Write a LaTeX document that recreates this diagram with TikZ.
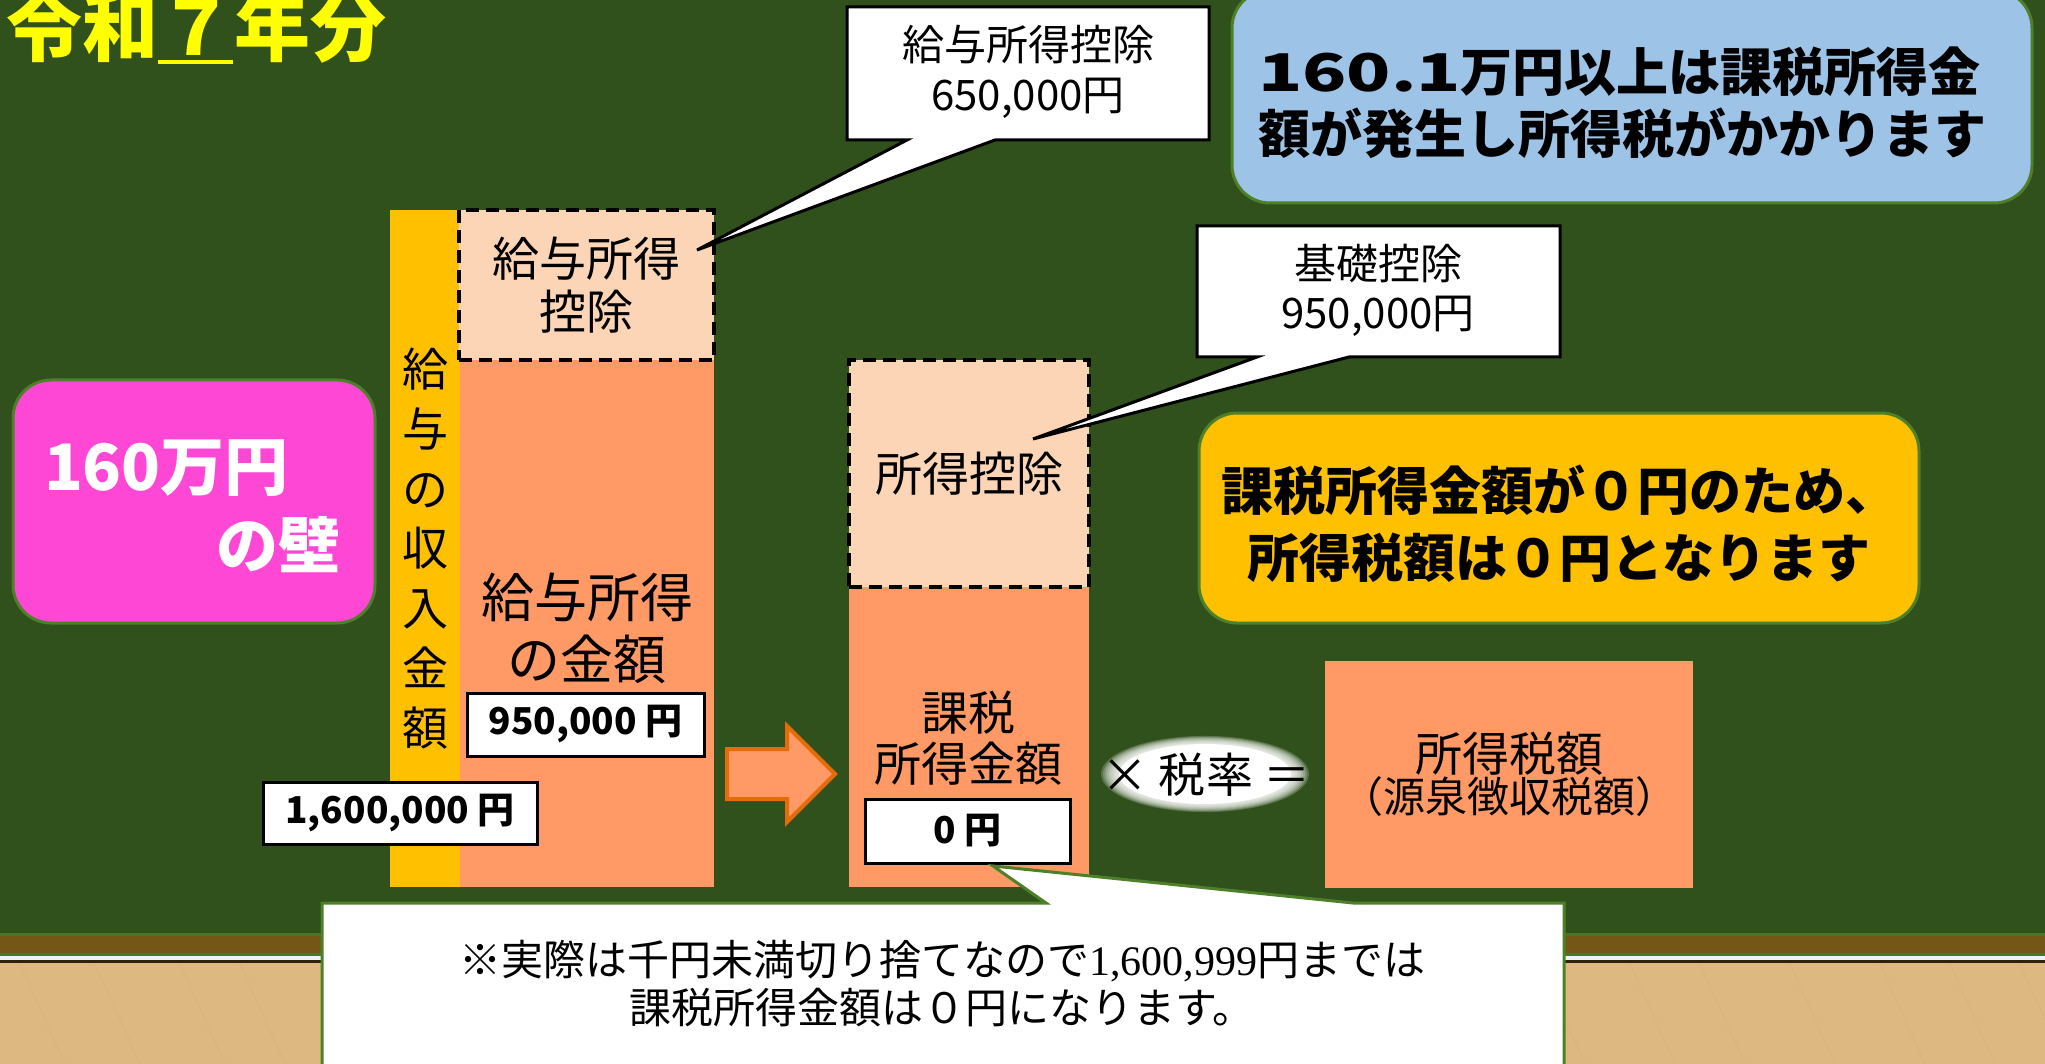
\documentclass[tikz,border=0pt]{standalone}
\usepackage{fontspec}
\usepackage{graphicx}
\newfontfamily\jp{Noto Sans CJK JP}
\newfontfamily\numserif{Liberation Serif}
\newcommand\fsz[2]{\fontsize{#1}{#2}\selectfont}
\definecolor{board}{RGB}{48,80,28}
\definecolor{boardedge}{RGB}{72,120,36}
\definecolor{ledge}{RGB}{116,87,23}
\definecolor{wood}{RGB}{221,184,128}
\definecolor{woodline}{RGB}{200,160,105}
\definecolor{barY}{RGB}{255,192,0}
\definecolor{salmon}{RGB}{255,153,102}
\definecolor{peach}{RGB}{251,213,181}
\definecolor{pinkbox}{RGB}{255,71,214}
\definecolor{bluebox}{RGB}{157,195,230}
\definecolor{gborder}{RGB}{78,128,42}
\definecolor{arrowline}{RGB}{228,108,10}
\definecolor{titleY}{RGB}{255,255,0}
\begin{document}
\begin{tikzpicture}[x=1pt,y=-1pt,
  plainbox/.style={rectangle, inner sep=0pt, outer sep=0pt},
  jpt/.style={inner sep=0pt, outer sep=0pt, align=center, text=black},
  salmonbox/.style={plainbox, fill=salmon},
  dashbox/.style={plainbox, fill=peach, draw=black, line width=4pt, dash pattern=on 13pt off 7pt, align=center, font={\jp\fsz{47}{53}}},
  numbox/.style={plainbox, fill=white, draw=black, line width=3pt, font={\jp\bfseries\fsz{37}{44}}},
  rbox/.style={plainbox, draw=gborder, line width=3pt, rounded corners=38pt},
  callout/.style={fill=white, draw=black, line width=3pt, line join=miter},
  notebox/.style={fill=white, draw=gborder, line width=3pt, line join=miter},
  blockarrow/.style={fill=salmon, draw=arrowline, line width=4pt, line join=miter}]
\useasboundingbox (0,0) rectangle (2045,1064);
\clip (0,0) rectangle (2045,1064);
% board, ledge and floor
\fill[board] (0,0) rectangle (2045,934);
\fill[boardedge] (0,933) rectangle (2045,936);
\fill[ledge] (0,936) rectangle (2045,953);
\fill[boardedge] (0,953) rectangle (2045,956);
\fill[white!90!gray] (0,956) rectangle (2045,960);
\fill[black!75!brown] (0,960) rectangle (2045,963);
\fill[wood] (0,963) rectangle (2045,1064);
\foreach \x in {20,95,180,240,330,410,505,560,650,720,810,900,975,1060,1130,1220,1300,1390,1470,1540,1630,1700,1790,1880,1950,2020}
  \draw[woodline, opacity=0.18, line width=0.8pt] (\x,964) -- (\x+45,1064);
% title
\node[anchor=base west, inner sep=0pt, font={\jp\bfseries\fsz{76}{80}}, text=titleY] (title) at (6,56) {令和７年分};
\fill[titleY] (158,60) rectangle (233,64);
% pink box
\node[rbox, fill=pinkbox, minimum width=362, minimum height=243] (wall) at (194,501.5) {};
\node[jpt, anchor=west, text=white, font={\jp\bfseries\fsz{64}{70}}] (wall1) at (44,468) {160万円};
\node[jpt, anchor=east, text=white, font={\jp\bfseries\fsz{62}{70}}] (wall2) at (340,545) {の壁};
% blue box
\node[rbox, fill=bluebox, minimum width=800, minimum height=213] (blue) at (1632,96.5) {};
\node[jpt, anchor=west, align=left, font={\jp\bfseries\fsz{52}{62}}] (bluetxt) at (1258,103) {\scalebox{1.4}[1]{160.1}万円以上は課税所得金\\額が発生し所得税がかかります};
% yellow box
\node[rbox, fill=barY, minimum width=720, minimum height=210] (yel) at (1559,518) {};
\node[jpt, font={\jp\bfseries\fsz{52}{67}}] (yeltxt) at (1559,523.5) {課税所得金額が０円のため、\\所得税額は０円となります};
% left column
\node[plainbox, fill=barY, minimum width=70, minimum height=677, align=center, font={\jp\fsz{46}{59.7}}] (bar) at (425,548.5) {給\\与\\の\\収\\入\\金\\額};
\node[salmonbox, minimum width=254, minimum height=527] (kyuyo) at (587,623.5) {};
\node[dashbox, minimum width=255, minimum height=150] (kkoujo) at (586.5,285) {給与所得\\控除};
\node[jpt, font={\jp\fsz{53}{62}}] (kyuyolbl) at (587,628) {給与所得\\の金額};
\node[numbox, minimum width=237, minimum height=63] (n950) at (585.5,724.5) {950,000 円};
\node[numbox, minimum width=274, minimum height=62] (n160) at (400,813) {1,600,000 円};
% block arrow
\draw[blockarrow] (727,749) -- (787,749) -- (787,726) -- (835,774) -- (787,822) -- (787,799) -- (727,799) -- cycle;
% second column
\node[salmonbox, minimum width=240, minimum height=300] (kazei) at (969,737) {};
\node[dashbox, minimum width=240, minimum height=227] (skoujo) at (969,473.5) {所得控除};
\node[jpt, font={\jp\fsz{47}{51}}] (kazeilbl) at (968,738) {課税\\所得金額};
\node[numbox, minimum width=205, minimum height=64] (n0) at (967.5,831) {0 円};
% glow ellipse with rate
\foreach \k in {0,...,9}
  \fill[white, opacity=0.2] (1205,774) ellipse ({86+2*\k} and {30+0.9*\k});
\fill[white] (1205,774) ellipse (86 and 30);
\node[jpt, font={\jp\fsz{47}{50}}] (rate) at (1206,775) {× 税率 ＝};
% result box
\node[salmonbox, minimum width=368, minimum height=227, align=center, font=\jp] (zei) at (1509,774.5) {\fsz{47}{50}所得税額\\{\fsz{42}{50}（源泉徴収税額）}};
% callout 1
\coordinate (tip1) at (697,250);
\path[callout] (847,7) -- (1209,7) -- (1209,140) -- (995,140) -- (tip1) -- (907,140) -- (847,140) -- cycle;
\node[jpt, font={\jp\fsz{42}{50}}] (c1) at (1028,72) {給与所得控除\\650,000円};
% callout 2
\coordinate (tip2) at (1033,439);
\path[callout] (1197,226) -- (1560,226) -- (1560,357) -- (1349,357) -- (tip2) -- (1257,357) -- (1197,357) -- cycle;
\node[jpt, font={\jp\fsz{42}{49}}] (c2) at (1378,290.5) {基礎控除\\950,000円};
% bottom note
\coordinate (tip3) at (993,866);
\path[notebox] (322,903) -- (1046,903) -- (tip3) -- (1353,903) -- (1564,903) -- (1564,1085) -- (322,1085) -- cycle;
\node[jpt, font={\jp\fsz{42}{48}}] (note) at (942,984) {※実際は千円未満切り捨てなので{\numserif 1,600,999}円までは\\課税所得金額は０円になります。};
\end{tikzpicture}
\end{document}
